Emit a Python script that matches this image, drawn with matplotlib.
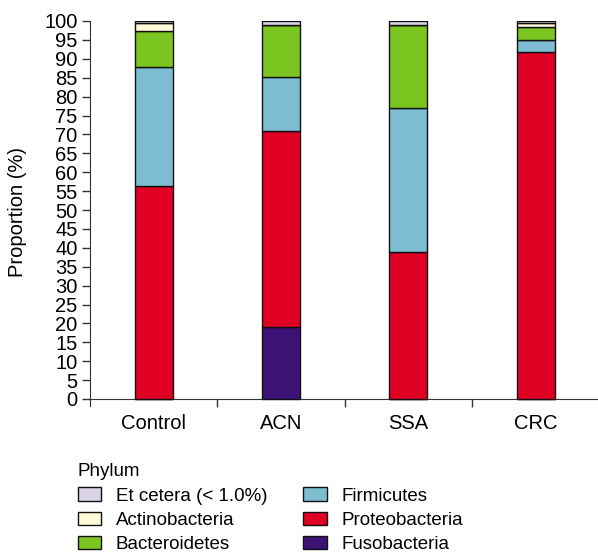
import matplotlib.pyplot as plt
import numpy as np

plt.rcParams["font.family"] = ["Liberation Sans", "DejaVu Sans"]

# 数据：各组门水平相对丰度（%），自下而上堆叠
groups = ["Control", "ACN", "SSA", "CRC"]
phyla = ["Fusobacteria", "Proteobacteria", "Firmicutes", "Bacteroidetes",
         "Actinobacteria", "Et cetera (< 1.0%)"]
fusobacteria = [0.0, 19.0, 0.0, 0.0]
proteobacteria = [56.3, 51.8, 38.9, 91.8]
firmicutes = [31.4, 14.4, 38.1, 3.2]
bacteroidetes = [9.7, 13.7, 21.9, 3.4]
actinobacteria = [2.2, 0.0, 0.0, 1.0]
etcetera = [0.4, 1.1, 1.1, 0.6]
yticks = list(range(0, 101, 5))

series = [fusobacteria, proteobacteria, firmicutes, bacteroidetes, actinobacteria, etcetera]
colors = ["#3D1276", "#DF0024", "#7EBCD1", "#7AC520", "#FFFBD8", "#DAD3E6"]

fig = plt.figure(figsize=(5.98, 5.54), dpi=100)
ax = fig.add_axes([90 / 598, 1 - 406 / 554, 508 / 598, (406 - 21) / 554])

x = np.arange(len(groups))
bottom = np.zeros(len(groups))
handles = {}
for name, vals, c in zip(phyla, series, colors):
    vals = np.array(vals)
    bars = ax.bar(x, vals, bottom=bottom, width=0.3, color=c,
                  edgecolor="#111111", linewidth=1.0, zorder=3)
    handles[name] = bars
    bottom += vals

ax.set_xlim(-0.5, 3.49)
ax.set_ylim(-100 * 7 / 378, 100)
ax.set_yticks(yticks)
ax.set_yticklabels([str(t) for t in yticks], fontsize=14.5)
ax.spines[["top", "right"]].set_visible(False)
ax.spines["bottom"].set_position(("data", 0))
ax.spines["left"].set_color("#333333")
ax.spines["bottom"].set_color("#333333")
ax.spines["left"].set_bounds(-100 * 7 / 378, 100)
ax.tick_params(axis="y", length=6, width=1, color="#333333", pad=3)

# 分类刻度在组之间，标签放中间
ax.set_xticks([0.5, 1.5, 2.5])
ax.set_xticklabels([])
ax.tick_params(axis="x", length=6, width=1, color="#333333")
for xi, g in zip(x, groups):
    ax.text(xi, -4.0, g, ha="center", va="top", fontsize=14.5)

fig.text(18 / 598, 1 - 212 / 554, "Proportion (%)", rotation=90,
         ha="center", va="center", fontsize=14.5)

order = ["Et cetera (< 1.0%)", "Actinobacteria", "Bacteroidetes",
         "Firmicutes", "Proteobacteria", "Fusobacteria"]
leg = fig.legend([handles[n] for n in order], order, ncol=2,
                 loc="upper left", bbox_to_anchor=(70 / 598, 1 - 456 / 554),
                 frameon=False, fontsize=13.5, title="Phylum", title_fontsize=13.5,
                 alignment="left", handlelength=1.25, handleheight=0.7,
                 handletextpad=0.8, columnspacing=1.9, labelspacing=0.37,
                 borderaxespad=0)

fig.savefig("out.png", dpi=100)
